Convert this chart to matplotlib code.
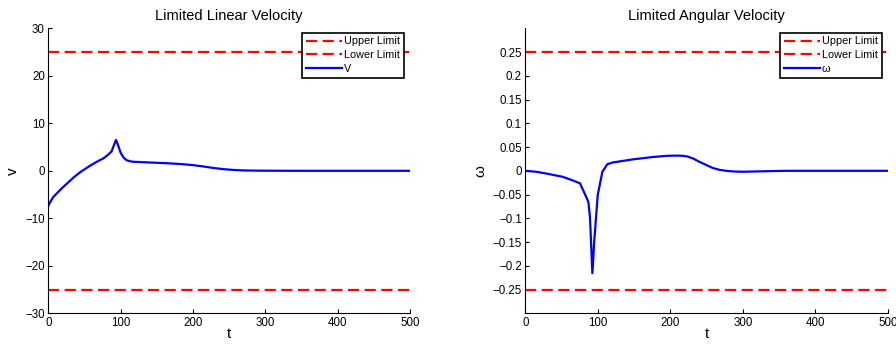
import matplotlib
matplotlib.use("Agg")
import matplotlib.pyplot as plt
import numpy as np

plt.rcParams['font.family'] = ['Liberation Sans', 'DejaVu Sans']

# Linear velocity data
t_v = [0, 3, 7, 14, 20, 25, 30, 35, 44, 50, 58, 67, 76, 82, 87.5, 91, 93.5, 96, 100, 104, 108, 113, 118, 140, 164, 185, 200, 215, 228, 242, 256, 270, 290, 320, 350, 500]
v_vals = [-7.4, -6.5, -5.5, -4.4, -3.5, -2.8, -2.1, -1.4, -0.3, 0.3, 1.1, 1.9, 2.6, 3.3, 4.1, 5.5, 6.5, 5.6, 3.8, 2.8, 2.25, 2.0, 1.9, 1.75, 1.6, 1.4, 1.2, 0.9, 0.6, 0.35, 0.18, 0.08, 0.03, 0.01, 0.0, 0.0]

# Angular velocity data
t_w = [0, 15, 28.5, 51.5, 65, 75.5, 86.9, 89.2, 92.5, 95.2, 99.9, 106.3, 113.2, 120.5, 148, 175.7, 195, 208, 216, 224, 232, 240, 250, 258.5, 268, 277, 288, 300, 327.5, 360, 500]
w_vals = [0.0, -0.002, -0.0056, -0.0126, -0.02, -0.0265, -0.065, -0.097, -0.2156, -0.146, -0.051, -0.002, 0.014, 0.0175, 0.024, 0.029, 0.0315, 0.032, 0.0318, 0.030, 0.0255, 0.019, 0.012, 0.006, 0.002, 0.0, -0.0015, -0.002, -0.001, 0.0, 0.0]

v_limit = 25
w_limit = 0.25

v_ticks = [-30, -20, -10, 0, 10, 20, 30]
w_ticks = [-0.25, -0.2, -0.15, -0.1, -0.05, 0, 0.05, 0.1, 0.15, 0.2, 0.25]
w_ticklabels = ['\u22120.25', '\u22120.2', '\u22120.15', '\u22120.1', '\u22120.05', '0', '0.05', '0.1', '0.15', '0.2', '0.25']
x_ticks = [0, 100, 200, 300, 400, 500]

fig = plt.figure(figsize=(8.96, 3.45), dpi=100)
ax1 = fig.add_axes([0.0539, 0.0919, 0.4037, 0.826])
ax2 = fig.add_axes([0.5863, 0.0919, 0.4045, 0.826])

def style(ax):
    ax.spines['top'].set_visible(False)
    ax.spines['right'].set_visible(False)
    ax.tick_params(direction='in', length=3, labelsize=8.3, width=0.8, pad=2.5)
    ax.set_xlim(0, 500)
    ax.set_xticks(x_ticks)

dash = (5, 2.5)
ax1.plot([0, 500], [v_limit, v_limit], color='#ff0000', lw=1.6, ls=(0, dash), label='Upper Limit')
ax1.plot([0, 500], [-v_limit, -v_limit], color='#ff0000', lw=1.6, ls=(0, dash), label='Lower Limit')
ax1.plot(t_v, v_vals, color='#0000ff', lw=1.6, label='V')
style(ax1)
ax1.set_ylim(-30, 30)
ax1.set_yticks(v_ticks)
ax1.set_yticklabels(['\u221230', '\u221220', '\u221210', '0', '10', '20', '30'])
ax1.set_title('Limited Linear Velocity', fontsize=10.5, pad=6)
ax1.set_xlabel('t', fontsize=11, labelpad=-1)
ax1.set_ylabel('v', fontsize=11, labelpad=4)
leg1 = ax1.legend(loc='upper right', bbox_to_anchor=(0.983, 0.985), fontsize=7.8, handlelength=3.3,
                  handletextpad=0.2, borderpad=0.35, labelspacing=0.35, fancybox=False, framealpha=1,
                  borderaxespad=0)
leg1.get_frame().set_edgecolor('black')
leg1.get_frame().set_linewidth(1.2)

ax2.plot([0, 500], [w_limit, w_limit], color='#ff0000', lw=1.6, ls=(0, dash), label='Upper Limit')
ax2.plot([0, 500], [-w_limit, -w_limit], color='#ff0000', lw=1.6, ls=(0, dash), label='Lower Limit')
ax2.plot(t_w, w_vals, color='#0000ff', lw=1.6, label='\u03c9')
style(ax2)
ax2.set_ylim(-0.3, 0.3)
ax2.set_yticks(w_ticks)
ax2.set_yticklabels(w_ticklabels)
ax2.set_title('Limited Angular Velocity', fontsize=10.5, pad=6)
ax2.set_xlabel('t', fontsize=11, labelpad=-1)
ax2.set_ylabel('\u03c9', fontsize=11, labelpad=4)
leg2 = ax2.legend(loc='upper right', bbox_to_anchor=(0.983, 0.985), fontsize=7.8, handlelength=3.3,
                  handletextpad=0.2, borderpad=0.35, labelspacing=0.35, fancybox=False, framealpha=1,
                  borderaxespad=0)
leg2.get_frame().set_edgecolor('black')
leg2.get_frame().set_linewidth(1.2)

fig.savefig('out.png', dpi=100)
